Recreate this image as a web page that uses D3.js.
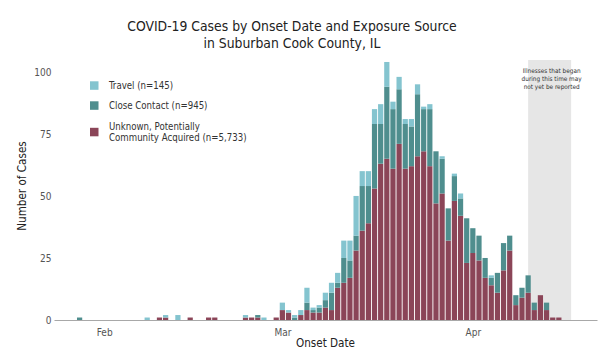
<!DOCTYPE html>
<html><head><meta charset="utf-8">
<script src="https://cdn.jsdelivr.net/npm/d3@7/dist/d3.min.js"></script>
<style>
body{margin:0;background:#fff;}
svg text{font-family:"DejaVu Sans",Verdana,sans-serif;font-stretch:condensed;}
</style></head><body><svg id="c" width="603" height="352"></svg>
<script>
// ---- data ----
const dates = ["2020-01-28","2020-02-08","2020-02-10","2020-02-11","2020-02-13","2020-02-15","2020-02-18","2020-02-19",
  "2020-02-24","2020-02-25","2020-02-26","2020-02-27","2020-02-29",
  "2020-03-01","2020-03-02","2020-03-03","2020-03-04","2020-03-05","2020-03-06","2020-03-07","2020-03-08","2020-03-09","2020-03-10",
  "2020-03-11","2020-03-12","2020-03-13","2020-03-14","2020-03-15","2020-03-16","2020-03-17","2020-03-18","2020-03-19","2020-03-20",
  "2020-03-21","2020-03-22","2020-03-23","2020-03-24","2020-03-25","2020-03-26","2020-03-27","2020-03-28","2020-03-29","2020-03-30",
  "2020-03-31","2020-04-01","2020-04-02","2020-04-03","2020-04-04","2020-04-05","2020-04-06","2020-04-07","2020-04-08","2020-04-09",
  "2020-04-10","2020-04-11","2020-04-12","2020-04-13","2020-04-14","2020-04-15"];
const unknown = [0,0,1,1,0,1,1,1, 1,1,1,0,1,
  4,3,0,2,4,3,3,5,4,13, 15,17,28,36,39,53,63,65,61,71, 61,62,66,68,62,47,51,32,48,42,
  23,27,24,17,14,11,20,28,6,9, 11,4,10,4,1,1];
const closeContact = [1,0,0,0,0,0,0,0, 0,0,1,0,0,
  0,0,1,0,3,1,2,3,7,2, 10,7,6,18,15,26,16,29,24,22, 18,16,25,17,23,21,14,13,10,7,
  18,10,10,8,3,8,11,6,4,4, 7,3,0,3,0,0];
const travel = [0,1,0,1,2,0,0,0, 1,0,0,1,0,
  3,1,1,2,6,1,1,3,4,4, 7,8,16,6,6,6,8,10,3,5, 2,3,4,1,2,0,1,0,1,2,
  0,0,0,0,1,0,0,0,0,0, 0,0,0,0,0,0];
const seriesKeys = ["unknown","closeContact","travel"];
const legendLabels = ["Travel (n=145)","Close Contact (n=945)","Unknown, Potentially|Community Acquired (n=5,733)"];
const legendKeys = ["travel","closeContact","unknown"];
const yTicks = [0,25,50,75,100];
const monthTicks = ["2020-02-01","2020-03-01","2020-04-01"];
const monthLabels = ["Feb","Mar","Apr"];
const lagStart = "2020-04-10", lagEnd = "2020-04-17";
const lagNote = ["Illnesses that began","during this time may","not yet be reported"];
const colors = {travel:"#84c4cf", closeContact:"#4f8e8e", unknown:"#8b4558"};

// ---- chart ----
const svg = d3.select("#c");
const parse = d3.utcParse("%Y-%m-%d");
const rows = dates.map((d,i)=>({date:parse(d), unknown:unknown[i], closeContact:closeContact[i], travel:travel[i]}));

const x = d3.scaleUtc()
  .domain([parse("2020-01-23").getTime()+20*3600e3, parse("2020-04-21").getTime()+5*3600e3].map(t=>new Date(t)))
  .range([54,597]);
const y = d3.scaleLinear().domain([0,104.8]).range([320,60]);
const dayW = x(parse("2020-03-02")) - x(parse("2020-03-01"));
const barW = dayW*0.85;

// lag band
svg.append("rect").attr("x",x(parse(lagStart))).attr("width",x(parse(lagEnd))-x(parse(lagStart)))
  .attr("y",y.range()[1]).attr("height",y(0)-y.range()[1]).attr("fill","#e6e6e6");
const bandMid = (x(parse(lagStart))+x(parse(lagEnd)))/2;
svg.append("g").selectAll("text").data(lagNote).join("text")
  .attr("x",bandMid+2).attr("y",(d,i)=>72.5+i*8.3).attr("text-anchor","middle")
  .attr("font-size",6.4).attr("fill","#333").text(d=>d);

// bars
const stack = d3.stack().keys(seriesKeys)(rows);
svg.append("g").selectAll("g").data(stack).join("g").attr("fill",s=>colors[s.key])
  .selectAll("rect").data(s=>s.filter(d=>d[1]>d[0])).join("rect")
  .attr("x",d=>x(d.data.date)-barW/2).attr("width",barW)
  .attr("y",d=>y(d[1])).attr("height",d=>y(d[0])-y(d[1]));

// x axis
const xAxis = svg.append("g").attr("transform","translate(0,320)")
  .call(d3.axisBottom(x).tickValues(monthTicks.map(parse)).tickFormat((d,i)=>monthLabels[i]).tickSize(0).tickPadding(9));
xAxis.select(".domain").attr("stroke","#a8a8a8").attr("stroke-width",1.2);
xAxis.selectAll("text").attr("font-size",10).attr("fill","#555");

// y axis
const yAxis = svg.append("g").attr("transform","translate(54,0)")
  .call(d3.axisLeft(y).tickValues(yTicks).tickSize(0).tickPadding(2.5));
yAxis.select(".domain").remove();
yAxis.selectAll("text").attr("font-size",10).attr("fill","#555");

// titles
svg.append("text").attr("x",292).attr("y",31).attr("text-anchor","middle").attr("font-size",13.8).attr("fill","#222")
  .text("COVID-19 Cases by Onset Date and Exposure Source");
svg.append("text").attr("x",292).attr("y",48).attr("text-anchor","middle").attr("font-size",13.8).attr("fill","#222")
  .text("in Suburban Cook County, IL");
svg.append("text").attr("x",325.5).attr("y",347).attr("text-anchor","middle").attr("font-size",11.6).attr("fill","#222")
  .text("Onset Date");
svg.append("text").attr("transform","translate(26,186) rotate(-90)").attr("text-anchor","middle").attr("font-size",11.6).attr("fill","#222")
  .text("Number of Cases");

// legend
const legY = [85.5,105.5,132];
const lg = svg.append("g").selectAll("g").data(legendKeys).join("g");
lg.append("rect").attr("x",90).attr("y",(d,i)=>legY[i]-4.2).attr("width",8.5).attr("height",8.5).attr("fill",d=>colors[d]);
lg.each(function(d,i){
  const lines = legendLabels[i].split("|");
  const g = d3.select(this);
  lines.forEach((t,j)=>{
    g.append("text").attr("x",109).attr("y",legY[i]+3.5 - (lines.length-1)*5.8 + j*11.6)
      .attr("font-size",9.6).attr("fill","#333").text(t);
  });
});
</script></body></html>
